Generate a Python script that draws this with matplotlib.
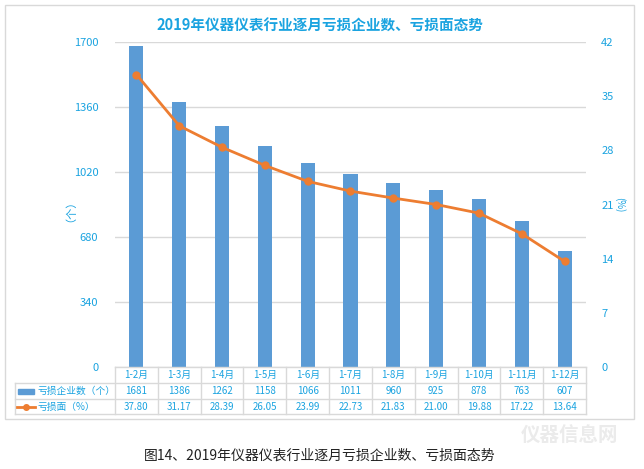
import matplotlib.pyplot as plt
from matplotlib.patches import Rectangle
from matplotlib.lines import Line2D
import numpy as np

plt.rcParams['font.family'] = ['Noto Sans CJK SC', 'DejaVu Sans']

months = ['1-2月', '1-3月', '1-4月', '1-5月', '1-6月', '1-7月', '1-8月', '1-9月', '1-10月', '1-11月', '1-12月']
loss_count = [1681, 1386, 1262, 1158, 1066, 1011, 960, 925, 878, 763, 607]
loss_rate = [37.80, 31.17, 28.39, 26.05, 23.99, 22.73, 21.83, 21.00, 19.88, 17.22, 13.64]
left_ticks = [0, 340, 680, 1020, 1360, 1700]
right_ticks = [0, 7, 14, 21, 28, 35, 42]

blue = '#5B9BD5'
orange = '#ED7D31'
txt = '#1AA3E0'
grid = '#D9D9D9'

W, H = 644, 469
fig = plt.figure(figsize=(W / 100, H / 100), dpi=100)

def fx(px):
    return px / W

def fy(py):
    return 1 - py / H

# outer chart border
fig.patches.append(Rectangle((fx(5), fy(419)), fx(634) - fx(5), fy(5) - fy(419),
                             transform=fig.transFigure, fill=False, ec='#D9D9D9', lw=1))

x0, x1, yt, yb = 115, 586, 42, 367
ax = fig.add_axes([fx(x0), fy(yb), fx(x1) - fx(x0), fy(yt) - fy(yb)])
x = np.arange(len(months))
ax.bar(x, loss_count, width=0.33, color=blue, zorder=2)
ax.set_xlim(-0.5, len(months) - 0.5)
ax.set_ylim(0, 1700)
ax.set_yticks(left_ticks)
ax.set_xticks([])
ax.grid(axis='y', color=grid, lw=1, zorder=0)
for s in ax.spines.values():
    s.set_visible(False)
ax.tick_params(axis='y', length=0, labelsize=8, labelcolor=txt, pad=12)

ax2 = ax.twinx()
ax2.plot(x, loss_rate, color=orange, lw=2, marker='o', ms=5, zorder=3)
ax2.set_ylim(0, 42)
ax2.set_yticks(right_ticks)
for s in ax2.spines.values():
    s.set_visible(False)
ax2.tick_params(axis='y', length=0, labelsize=8, labelcolor=txt, pad=11)

fig.text(fx(65), fy(205), '（个）', rotation=90, color=txt, fontsize=8, ha='center', va='center')
fig.text(fx(620), fy(205), '(%)', rotation=270, color=txt, fontsize=7, ha='center', va='center')

fig.text(fx(320), fy(26), '2019年仪器仪表行业逐月亏损企业数、亏损面态势', color=txt,
         fontsize=10.5, fontweight='bold', ha='center', va='center')

# data table
rows = [383, 399, 414]
tleft = 15
cw = (x1 - x0) / len(months)
lc = '#D9D9D9'

def hline(y, xa, xb):
    fig.add_artist(Line2D([fx(xa), fx(xb)], [fy(y), fy(y)], color=lc, lw=1, transform=fig.transFigure))

def vline(xp, ya, yb_):
    fig.add_artist(Line2D([fx(xp), fx(xp)], [fy(ya), fy(yb_)], color=lc, lw=1, transform=fig.transFigure))

hline(yb, x0, x1)
for r in rows:
    hline(r, tleft, x1)
for i in range(len(months) + 1):
    vline(x0 + i * cw, yb, rows[-1])
vline(tleft, rows[0], rows[-1])

for i, m in enumerate(months):
    cx = x0 + (i + 0.5) * cw
    fig.text(fx(cx), fy(375), m, color=txt, fontsize=7, ha='center', va='center')
    fig.text(fx(cx), fy(391), str(loss_count[i]), color=txt, fontsize=7, ha='center', va='center')
    fig.text(fx(cx), fy(406.5), '%.2f' % loss_rate[i], color=txt, fontsize=7, ha='center', va='center')

fig.patches.append(Rectangle((fx(18), fy(393.5)), fx(16), fy(388.5) - fy(393.5),
                             transform=fig.transFigure, color=blue))
fig.add_artist(Line2D([fx(17), fx(35)], [fy(406.5), fy(406.5)], color=orange, lw=2,
                      transform=fig.transFigure))
fig.add_artist(Line2D([fx(26)], [fy(406.5)], color=orange, marker='o', ms=4, transform=fig.transFigure))
fig.text(fx(37), fy(391), '亏损企业数（个）', color=txt, fontsize=7, ha='left', va='center')
fig.text(fx(37), fy(406.5), '亏损面（%）', color=txt, fontsize=7, ha='left', va='center')

fig.text(fx(320), fy(456), '图14、2019年仪器仪表行业逐月亏损企业数、亏损面态势', color='#222222',
         fontsize=10, ha='center', va='center')
fig.text(fx(570), fy(436), '仪器信息网', color='#EBEBEB', fontsize=14, fontweight='bold',
         ha='center', va='center')

fig.savefig('out.png', dpi=100)
